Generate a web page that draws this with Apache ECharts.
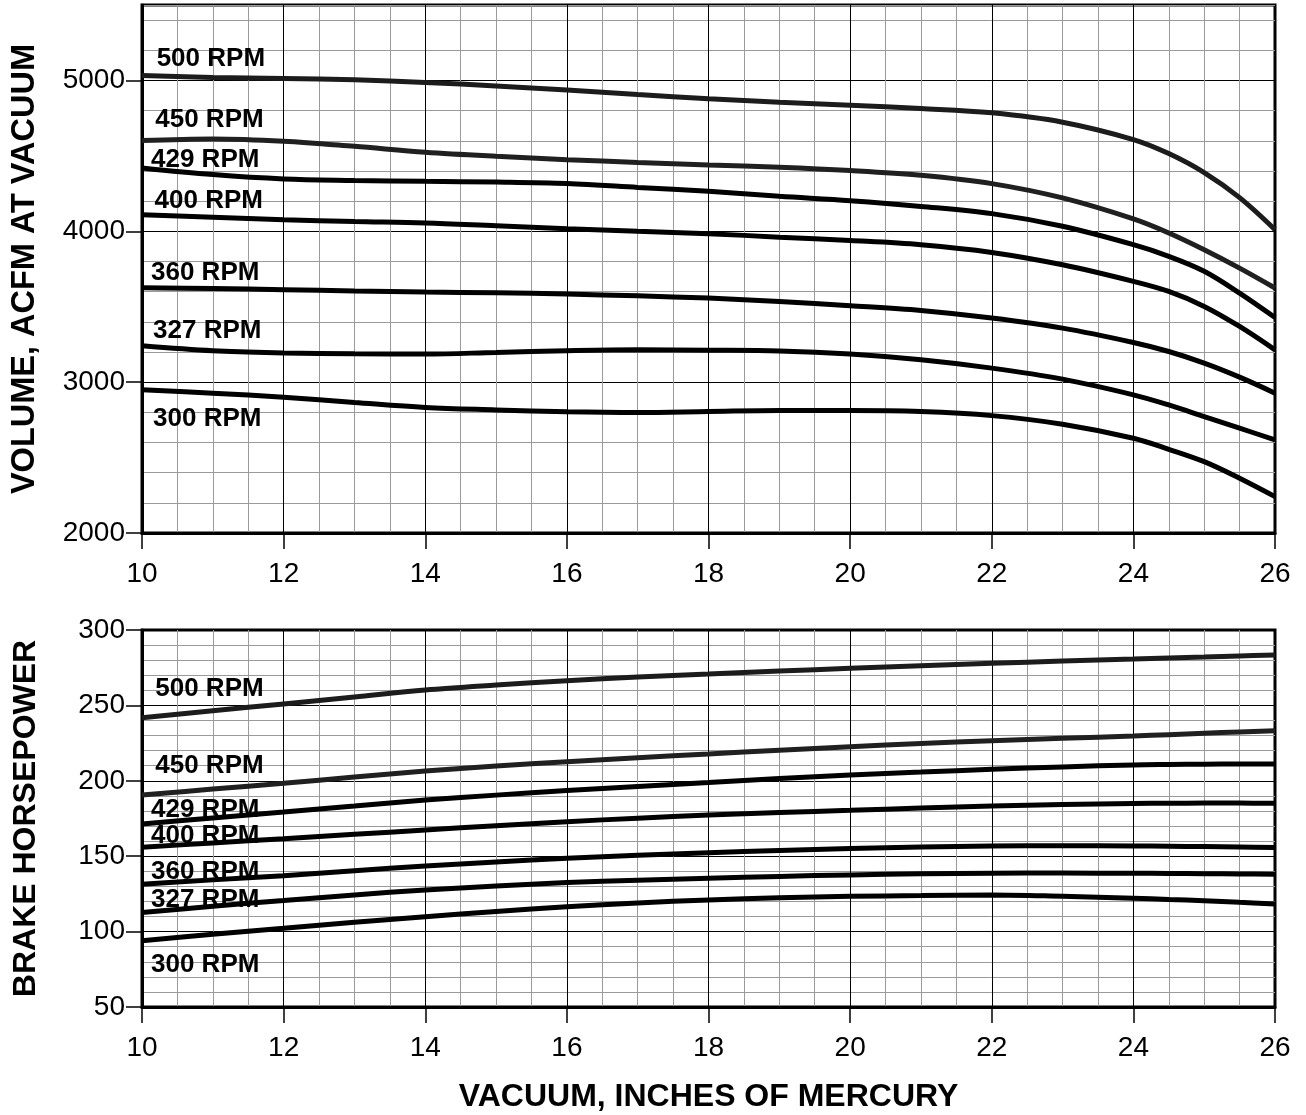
<!DOCTYPE html>
<html>
<head>
<meta charset="utf-8">
<script src="https://cdn.jsdelivr.net/npm/echarts@6/dist/echarts.min.js"></script>
<style>
html,body{margin:0;padding:0;background:#fff;}
#c{width:1306px;height:1115px;}
</style>
</head>
<body>
<div id="c"></div>
<script>
var vacuum = [10, 11, 12, 13, 14, 15, 16, 17, 18, 19, 20, 21, 22, 23, 24, 24.5, 25, 25.5, 26];
var rpmNames = ['500 RPM', '450 RPM', '429 RPM', '400 RPM', '360 RPM', '327 RPM', '300 RPM'];

// Volume, ACFM at vacuum
var vol500 = [5033, 5020, 5013, 5004, 4987, 4963, 4937, 4906, 4878, 4856, 4836, 4814, 4785, 4723, 4608, 4515, 4389, 4223, 4011];
var vol450 = [4601, 4612, 4597, 4563, 4524, 4497, 4475, 4456, 4440, 4425, 4403, 4371, 4316, 4221, 4082, 3989, 3878, 3756, 3624];
var vol429 = [4420, 4376, 4347, 4337, 4331, 4326, 4316, 4291, 4265, 4232, 4203, 4165, 4117, 4033, 3911, 3834, 3735, 3590, 3428];
var vol400 = [4110, 4093, 4077, 4065, 4055, 4036, 4017, 4000, 3984, 3961, 3939, 3911, 3860, 3778, 3668, 3601, 3502, 3369, 3214];
var vol360 = [3626, 3620, 3613, 3604, 3597, 3592, 3584, 3572, 3557, 3535, 3507, 3475, 3425, 3358, 3263, 3203, 3126, 3033, 2927];
var vol327 = [3241, 3208, 3194, 3188, 3186, 3197, 3208, 3214, 3212, 3207, 3186, 3148, 3093, 3020, 2916, 2849, 2772, 2695, 2617];
var vol300 = [2949, 2927, 2900, 2865, 2832, 2816, 2803, 2798, 2805, 2812, 2812, 2805, 2778, 2721, 2628, 2555, 2473, 2363, 2241];

// Brake horsepower
var bhp500 = [241.8, 246.4, 251.0, 255.6, 260.2, 263.5, 266.4, 268.8, 270.8, 272.8, 274.6, 276.3, 277.9, 279.4, 280.8, 281.5, 282.1, 282.8, 283.4];
var bhp450 = [190.6, 194.5, 198.3, 202.5, 206.5, 209.8, 212.7, 215.3, 217.8, 220.3, 222.6, 224.7, 226.6, 228.2, 229.7, 230.6, 231.5, 232.4, 233.2];
var bhp429 = [171.4, 175.4, 179.3, 183.3, 187.3, 190.5, 193.5, 196.3, 198.8, 201.5, 203.9, 205.8, 207.6, 209.2, 210.5, 210.8, 211.0, 211.1, 211.1];
var bhp400 = [155.9, 158.8, 161.6, 164.5, 167.4, 170.2, 172.9, 175.2, 177.3, 179.0, 180.4, 182.0, 183.3, 184.3, 185.0, 185.1, 185.2, 185.2, 185.1];
var bhp360 = [131.4, 134.3, 137.1, 140.3, 143.5, 146.2, 148.6, 150.6, 152.3, 153.8, 155.1, 156.1, 156.8, 157.0, 156.8, 156.6, 156.4, 156.1, 155.7];
var bhp327 = [112.6, 116.8, 120.6, 124.3, 127.6, 130.2, 132.5, 134.1, 135.4, 136.6, 137.6, 138.3, 138.7, 138.8, 138.7, 138.6, 138.4, 138.2, 138.0];
var bhp300 = [94.0, 98.2, 102.2, 106.2, 109.9, 113.3, 116.5, 119.0, 121.0, 122.5, 123.4, 123.9, 124.3, 123.4, 122.1, 121.3, 120.5, 119.4, 118.3];

// label anchors (data units)
var volLabelX = [10.2, 10.18, 10.12, 10.17, 10.12, 10.15, 10.15];
var volLabelY = [5146, 4741, 4475, 4203, 3725, 3340, 2757];
var bhpLabelX = [10.18, 10.18, 10.12, 10.12, 10.12, 10.12, 10.12];
var bhpLabelY = [260.9, 209.8, 180.6, 163.4, 139.5, 121.0, 77.9];

var volTicks = [2000, 3000, 4000, 5000];
var volSeries = [vol500, vol450, vol429, vol400, vol360, vol327, vol300];
var bhpSeries = [bhp500, bhp450, bhp429, bhp400, bhp360, bhp327, bhp300];
var lineColors = ['#1c1c1c', '#202020', '#000', '#000', '#000', '#000', '#000'];

var FONT = '"Liberation Sans", Arial, Helvetica, sans-serif';
var GRAY = '#9a9a9a';
var TICK_FS = 28;

function pairs(arr) {
  return vacuum.map(function (x, i) { return [x, arr[i]]; });
}

function mkSeries(arr, i, gi, lx, ly) {
  return {
    type: 'line',
    name: rpmNames[i],
    xAxisIndex: gi,
    yAxisIndex: gi,
    data: pairs(arr),
    smooth: 0.35,
    showSymbol: false,
    symbol: 'none',
    lineStyle: { color: lineColors[i], width: 5 },
    z: 5,
    markPoint: {
      symbol: 'circle',
      symbolSize: 1,
      itemStyle: { color: 'rgba(0,0,0,0)' },
      silent: true,
      label: {
        show: true,
        position: 'right',
        distance: 0,
        color: '#000',
        fontFamily: FONT,
        fontWeight: 'bold',
        fontSize: 26,
        formatter: rpmNames[i]
      },
      data: [{ coord: [lx[i], ly[i]] }]
    }
  };
}

var series = [];
volSeries.forEach(function (a, i) { series.push(mkSeries(a, i, 0, volLabelX, volLabelY)); });
bhpSeries.forEach(function (a, i) { series.push(mkSeries(a, i, 1, bhpLabelX, bhpLabelY)); });

function xAxisCfg(gi, withName) {
  var c = {
    type: 'value',
    gridIndex: gi,
    min: 10, max: 26, interval: 2,
    z: 2,
    axisLine: { show: true, lineStyle: { color: '#000', width: 3 } },
    axisTick: { show: true, inside: false, length: 16, lineStyle: { color: '#000', width: 1.5 } },
    axisLabel: { margin: 27, color: '#000', fontSize: TICK_FS, fontFamily: FONT, formatter: function (v) { return String(v); } },
    splitLine: { show: true, lineStyle: { color: '#000', width: 1 } },
    minorTick: { show: false, splitNumber: 4 },
    minorSplitLine: { show: true, lineStyle: { color: GRAY, width: 1 } }
  };
  if (withName) {
    c.name = 'VACUUM, INCHES OF MERCURY';
    c.nameLocation = 'middle';
    c.nameGap = 74;
    c.nameTextStyle = { color: '#000', fontSize: 32, fontWeight: 'bold', fontFamily: FONT };
  }
  return c;
}

var option = {
  animation: false,
  backgroundColor: '#fff',
  grid: [
    { left: 142, right: 31, top: 5, height: 528, show: true, borderColor: '#000', borderWidth: 3, backgroundColor: 'transparent' },
    { left: 142, right: 31, top: 630, height: 377, show: true, borderColor: '#000', borderWidth: 3, backgroundColor: 'transparent' }
  ],
  xAxis: [xAxisCfg(0, false), xAxisCfg(1, true)],
  yAxis: [
    {
      type: 'value',
      gridIndex: 0,
      min: 2000, max: 5500, interval: 1000,
      z: 2,
      name: 'VOLUME, ACFM AT VACUUM',
      nameLocation: 'middle',
      nameRotate: 90,
      nameGap: 100,
      nameTextStyle: { color: '#000', fontSize: 32.5, fontWeight: 'bold', fontFamily: FONT },
      axisLine: { show: true, lineStyle: { color: '#000', width: 3 } },
      axisTick: { show: true, length: 16, customValues: volTicks, lineStyle: { color: '#000', width: 1.5 } },
      axisLabel: {
        margin: 17, color: '#000', fontSize: TICK_FS, fontFamily: FONT,
        customValues: volTicks,
        formatter: function (v) { return String(v); }
      },
      splitLine: { show: true, lineStyle: { color: '#000', width: 1 } }
    },
    {
      type: 'value',
      gridIndex: 1,
      min: 50, max: 300, interval: 50,
      z: 2,
      name: 'BRAKE HORSEPOWER',
      nameLocation: 'middle',
      nameRotate: 90,
      nameGap: 100,
      nameTextStyle: { color: '#000', fontSize: 32, fontWeight: 'bold', fontFamily: FONT },
      axisLine: { show: true, lineStyle: { color: '#000', width: 3 } },
      axisTick: { show: true, length: 16, lineStyle: { color: '#000', width: 1.5 } },
      axisLabel: { margin: 17, color: '#000', fontSize: TICK_FS, fontFamily: FONT, formatter: function (v) { return String(v); } },
      splitLine: { show: true, lineStyle: { color: '#000', width: 1 } },
      minorTick: { show: false, splitNumber: 5 },
      minorSplitLine: { show: true, lineStyle: { color: GRAY, width: 1 } }
    },
    {
      type: 'value',
      gridIndex: 0,
      min: 2000, max: 5500, interval: 200,
      z: 0,
      axisLine: { show: false },
      axisTick: { show: false },
      axisLabel: { show: false },
      splitLine: { show: true, lineStyle: { color: GRAY, width: 1 } }
    }
  ],
  series: series
};

var chart = echarts.init(document.getElementById('c'), null, { renderer: 'canvas' });
chart.setOption(option);
</script>
</body>
</html>
